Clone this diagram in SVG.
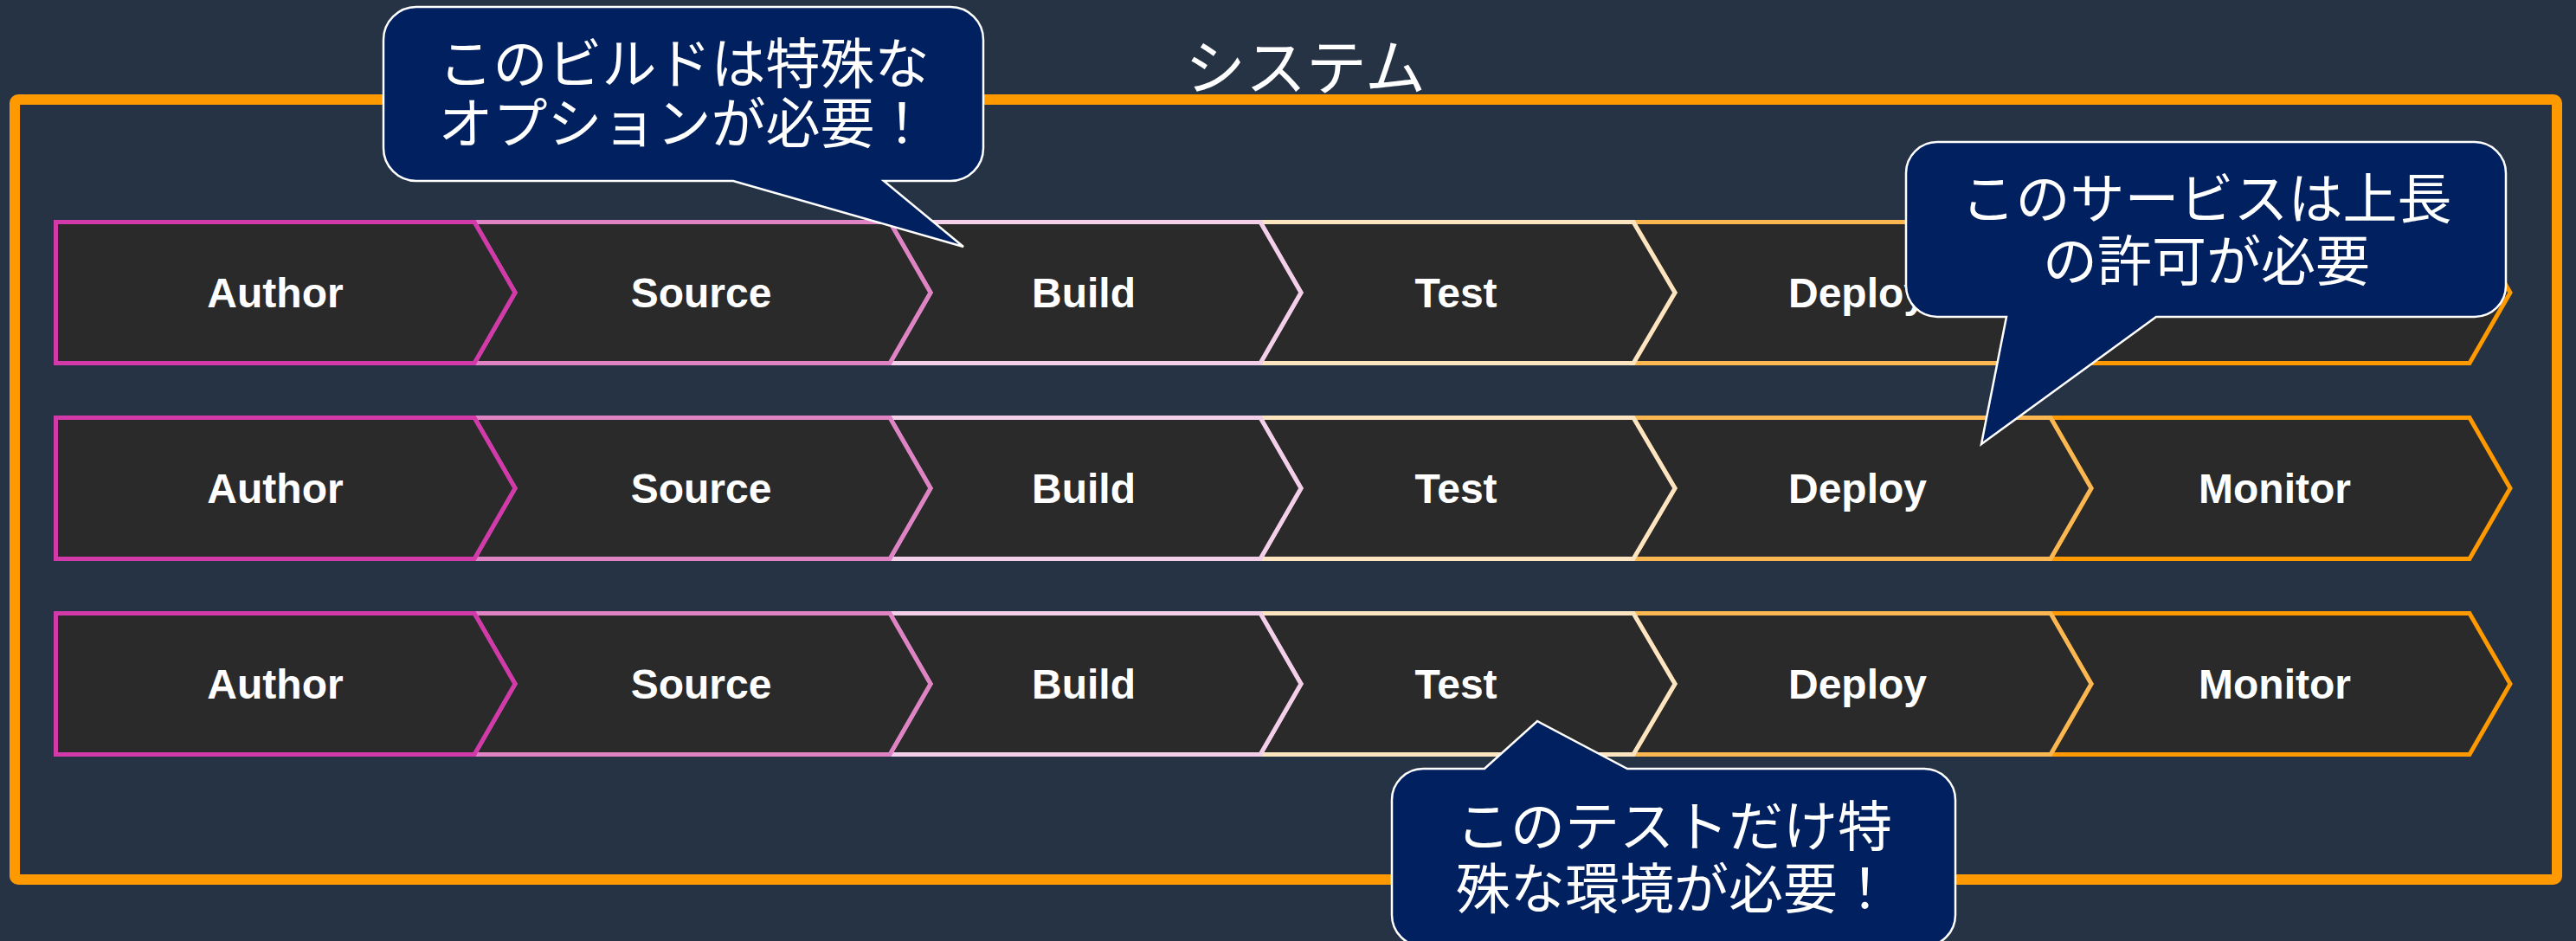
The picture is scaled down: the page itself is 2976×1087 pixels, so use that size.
<svg xmlns="http://www.w3.org/2000/svg" xmlns:xlink="http://www.w3.org/1999/xlink" width="2976" height="1087" viewBox="0 0 2976 1087">
<style>
.bg{fill:#263344}
.frame{fill:none;stroke:#ff9900;stroke-width:12}
.chev{fill:#2a2a2a;stroke-width:5;stroke-linejoin:miter}
.lbl{font-family:"Liberation Sans",Arial,sans-serif;font-weight:bold;font-size:48px;fill:#ffffff;text-anchor:middle}
.title{font-family:"Noto Sans CJK JP","Noto Sans",sans-serif;font-size:70px;fill:#ffffff;text-anchor:middle}
.callout{fill:#002060;stroke:#ffffff;stroke-width:2.5;stroke-linejoin:miter}
.ctext{font-family:"Noto Sans CJK JP","Noto Sans",sans-serif;font-size:63px;fill:#ffffff;text-anchor:middle}
</style>
<defs>
<path id="sh-author" class="chev" stroke="#d33aa9" d="M64.5,0 H548 L595,81.5 L548,163 H64.5 Z"/>
<path id="sh-source" class="chev" stroke="#e083c5" d="M548,0 H1028 L1075,81.5 L1028,163 H548 L595,81.5 Z"/>
<path id="sh-build" class="chev" stroke="#f3cfea" d="M1028,0 H1456 L1503,81.5 L1456,163 H1028 L1075,81.5 Z"/>
<path id="sh-test" class="chev" stroke="#fde5c2" d="M1456,0 H1887 L1935,81.5 L1887,163 H1456 L1503,81.5 Z"/>
<path id="sh-deploy" class="chev" stroke="#fbb751" d="M1887,0 H2369 L2416,81.5 L2369,163 H1887 L1935,81.5 Z"/>
<path id="sh-monitor" class="chev" stroke="#ff9900" d="M2369,0 H2853 L2900,81.5 L2853,163 H2369 L2416,81.5 Z"/>
</defs>
<rect class="bg" x="0" y="0" width="2976" height="1087"/>

<g id="system">
<rect class="frame" x="17" y="115" width="2937" height="901" rx="4"/>
<text class="title" x="1508" y="104">システム</text>
</g>

<g id="row1" transform="translate(0,256.5)">
<g id="r1-monitor"><use href="#sh-monitor"/></g>
<g id="r1-deploy"><use href="#sh-deploy"/><text class="lbl" x="2146" y="98.5">Deploy</text></g>
<g id="r1-test"><use href="#sh-test"/><text class="lbl" x="1682" y="98.5">Test</text></g>
<g id="r1-build"><use href="#sh-build"/><text class="lbl" x="1252" y="98.5">Build</text></g>
<g id="r1-source"><use href="#sh-source"/><text class="lbl" x="810" y="98.5">Source</text></g>
<g id="r1-author"><use href="#sh-author"/><text class="lbl" x="318" y="98.5">Author</text></g>
</g>

<g id="row2" transform="translate(0,482.5)">
<g id="r2-monitor"><use href="#sh-monitor"/><text class="lbl" x="2628" y="98.5">Monitor</text></g>
<g id="r2-deploy"><use href="#sh-deploy"/><text class="lbl" x="2146" y="98.5">Deploy</text></g>
<g id="r2-test"><use href="#sh-test"/><text class="lbl" x="1682" y="98.5">Test</text></g>
<g id="r2-build"><use href="#sh-build"/><text class="lbl" x="1252" y="98.5">Build</text></g>
<g id="r2-source"><use href="#sh-source"/><text class="lbl" x="810" y="98.5">Source</text></g>
<g id="r2-author"><use href="#sh-author"/><text class="lbl" x="318" y="98.5">Author</text></g>
</g>

<g id="row3" transform="translate(0,708.5)">
<g id="r3-monitor"><use href="#sh-monitor"/><text class="lbl" x="2628" y="98.5">Monitor</text></g>
<g id="r3-deploy"><use href="#sh-deploy"/><text class="lbl" x="2146" y="98.5">Deploy</text></g>
<g id="r3-test"><use href="#sh-test"/><text class="lbl" x="1682" y="98.5">Test</text></g>
<g id="r3-build"><use href="#sh-build"/><text class="lbl" x="1252" y="98.5">Build</text></g>
<g id="r3-source"><use href="#sh-source"/><text class="lbl" x="810" y="98.5">Source</text></g>
<g id="r3-author"><use href="#sh-author"/><text class="lbl" x="318" y="98.5">Author</text></g>
</g>

<g id="connectors"/>

<g id="callout-build">
<path class="callout" d="M481,8 H1098 A38,38 0 0 1 1136,46 V171 A38,38 0 0 1 1098,209 H1021 L1113,285 L847,209 H481 A38,38 0 0 1 443,171 V46 A38,38 0 0 1 481,8 Z"/>
<text class="ctext" x="790" y="96">このビルドは特殊な</text>
<text class="ctext" x="790" y="165">オプションが必要！</text>
</g>

<g id="callout-deploy">
<path class="callout" d="M2238,164 H2859 A36,36 0 0 1 2895,200 V330 A36,36 0 0 1 2859,366 H2491 L2289,513 L2318,366 H2238 A36,36 0 0 1 2202,330 V200 A36,36 0 0 1 2238,164 Z"/>
<text class="ctext" x="2549" y="252">このサービスは上長</text>
<text class="ctext" x="2549" y="324">の許可が必要</text>
</g>

<g id="callout-test">
<path class="callout" d="M1644,888 H1715 L1776,833 L1880,888 H2223 A36,36 0 0 1 2259,924 V1057 A36,36 0 0 1 2223,1093 H1644 A36,36 0 0 1 1608,1057 V924 A36,36 0 0 1 1644,888 Z"/>
<text class="ctext" x="1934" y="977">このテストだけ特</text>
<text class="ctext" x="1934" y="1049">殊な環境が必要！</text>
</g>
</svg>
